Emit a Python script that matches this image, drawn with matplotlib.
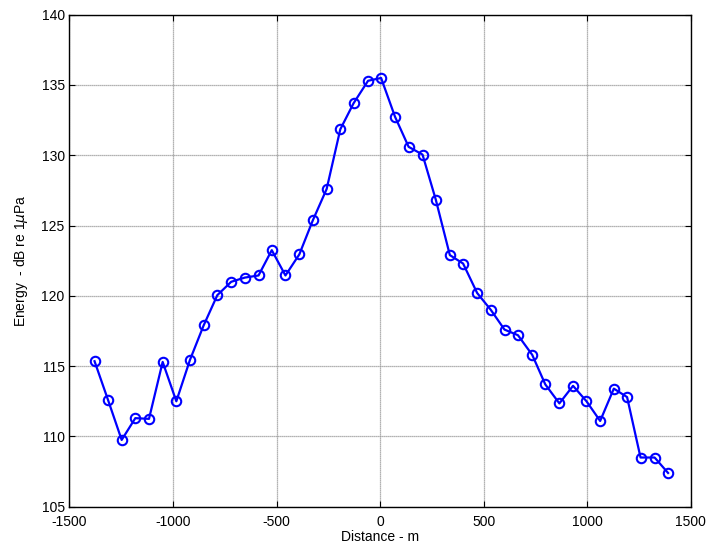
import numpy as np
import matplotlib
matplotlib.use("Agg")
import matplotlib.pyplot as plt

# distance along track (m) and received energy (dB re 1 uPa)
distance = [-1379, -1314, -1248, -1182, -1116, -1050, -984, -918, -852, -786,
            -719, -653, -587, -523, -457, -390, -324, -258, -192, -128,
            -58, 5, 72, 138, 205, 269, 337, 401, 469, 535,
            601, 666, 735, 798, 866, 932, 997, 1063, 1129, 1193,
            1258, 1326, 1391]
energy = [115.35, 112.6, 109.75, 111.3, 111.25, 115.3, 112.5, 115.45, 117.9, 120.05,
          121.0, 121.3, 121.45, 123.25, 121.45, 122.95, 125.4, 127.6, 131.85, 133.7,
          135.3, 135.5, 132.75, 130.6, 130.05, 126.85, 122.9, 122.3, 120.2, 119.0,
          117.6, 117.2, 115.8, 113.7, 112.35, 113.6, 112.5, 111.1, 113.4, 112.8,
          108.5, 108.5, 107.4]

xticks = [-1500, -1000, -500, 0, 500, 1000, 1500]
yticks = [105, 110, 115, 120, 125, 130, 135, 140]

plt.rcParams['font.family'] = ['Liberation Sans', 'DejaVu Sans']
plt.rcParams['font.size'] = 10
plt.rcParams['axes.unicode_minus'] = False

fig = plt.figure(figsize=(7.12, 5.53), dpi=100)
ax = fig.add_axes([0.0976, 0.0837, 0.8724, 0.8897])

ax.plot(distance, energy, color='#0000ff', linewidth=1.6, marker='o',
        markersize=6.8, markerfacecolor='none', markeredgecolor='#0000ff',
        markeredgewidth=1.5)

ax.set_xlim(-1500, 1500)
ax.set_ylim(105, 140)
ax.set_xticks(xticks)
ax.set_yticks(yticks)
ax.grid(True, color='#999999', linestyle=(0, (1, 0.6)), linewidth=0.9)
ax.tick_params(direction='in', top=True, right=True, length=4, width=0.8)
ax.tick_params(axis='x', pad=6)
for s in ax.spines.values():
    s.set_linewidth(1.0)

ax.set_xlabel('Distance - m', labelpad=1)
ax.set_ylabel(r'Energy  - dB re 1$\mu$Pa', labelpad=8)

fig.savefig('out.png', dpi=100)
